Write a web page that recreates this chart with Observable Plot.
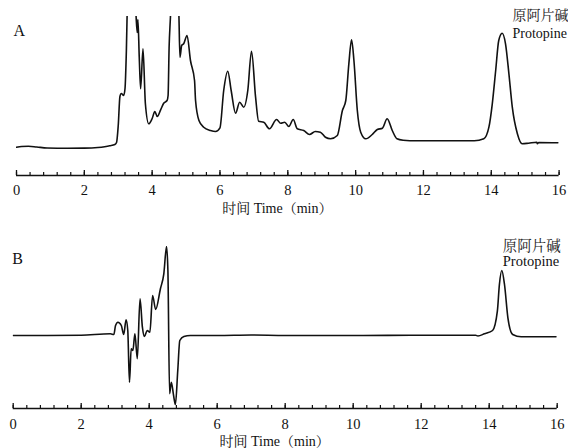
<!DOCTYPE html>
<html><head><meta charset="utf-8">
<script src="https://cdn.jsdelivr.net/npm/d3@7"></script>
<script src="https://cdn.jsdelivr.net/npm/@observablehq/plot@0.6"></script>
<style>
body{margin:0;background:#fff;width:568px;height:448px;overflow:hidden}
#chart svg{display:block}
#chart svg text{font-family:'Liberation Serif','Noto Serif CJK SC',serif !important}
</style>
</head><body><div id="chart"></div>
<script>
// Panel A: sample chromatogram (time in min, relative signal)
const timeA = [0,0.15,0.35,0.6,0.9,1.5,2.0,2.4,2.6,2.75,2.9,2.95,3.0,3.05,3.09,3.16,3.2,3.24,3.28,3.4,3.52,3.56,3.58,3.62,3.66,3.73,3.8,3.9,4.0,4.08,4.15,4.25,4.34,4.44,4.47,4.5,4.54,4.65,4.79,4.82,4.87,4.93,5.03,5.13,5.25,5.28,5.38,5.52,5.72,5.87,6.0,6.11,6.23,6.33,6.46,6.58,6.7,6.82,6.93,7.05,7.14,7.29,7.46,7.67,7.79,7.91,8.03,8.16,8.28,8.47,8.64,8.81,8.96,9.11,9.26,9.46,9.61,9.71,9.8,9.88,9.95,10.05,10.15,10.3,10.49,10.64,10.79,10.93,11.08,11.22,11.4,11.6,12.5,13.5,13.78,13.93,14.03,14.13,14.22,14.32,14.42,14.52,14.62,14.77,14.91,15.1,15.34,15.36,15.4,15.97];
const signalA = [0.3,1.0,1.3,0.5,-0.5,-0.7,-0.6,0,0.8,1.7,3,5,22,51,54,52,59,97,160,220,135,115,128,90,58.7,98.7,44,23.7,29,36,31,37.7,44.3,47,52,100,131,240,131,90.3,102,103.7,112,87,67,47,27,20.3,17,16,19.7,57,76.3,57,34.3,45.3,40.3,57,96.3,50.3,26.3,25.3,18.7,28,24.3,25.3,21,28,18.7,17,13,16,15.3,10.3,8.7,12,37,47,83.7,107.7,87,37,15.3,8.7,13,18,19.3,28.7,17,8.7,7.2,6.8,6.8,6.8,8.7,20.3,43.7,77,107,114.3,103.7,73.7,40.3,13.7,3.7,4.3,5.3,3.8,5,4.7];

// Panel B: second chromatogram
const timeB = [0,1,2,2.86,2.96,3.01,3.08,3.18,3.25,3.32,3.37,3.42,3.47,3.52,3.58,3.65,3.73,3.8,3.86,3.94,4.02,4.1,4.19,4.33,4.43,4.51,4.55,4.6,4.65,4.71,4.77,4.84,4.9,5.02,5.21,6,7,8,10,12,13.6,13.67,13.86,14.1,14.24,14.3,14.37,14.45,14.55,14.69,14.94,15.97];
const signalB = [0,0,0.3,1.7,1,10,13.3,10,1,15.7,5,-46.7,-13.3,-15,1.7,-23.3,36.7,8.3,-1,5,3.3,40,26,46.7,61.7,89,65,-58.3,-46.7,-58.3,-69,-35,-5,-1,0,0,0.5,0,0,0.3,0.3,-0.5,1.7,5,24.3,51,65,51,17.7,1,-1.3,-1.3];

const majorTicks = [0,2,4,6,8,10,12,14,16];
const minorStep = 0.4;
const xLabel = "时间 Time（min）";
const peakNameCN = "原阿片碱";
const peakNameEN = "Protopine";
const panelNames = ["A","B"];

const serif = "'Liberation Serif', 'Noto Serif CJK SC', serif";
const minorTicks = d3.range(0, 16 + 1e-9, minorStep);

function panel({time, signal, name, yDomain, mL, mR, mT, mB, tickPad, nameDx, nameDy, annDx, annDy1, annDy2, annSize, labelDy}) {
  const rows = time.map((t, i) => ({t, v: signal[i]}));
  const txt = {text: d => d, lineAnchor: "middle", fontFamily: serif, fill: "#111"};
  return Plot.plot({
    width: 568, height: 224,
    marginLeft: mL, marginRight: mR, marginTop: mT, marginBottom: mB,
    x: {domain: [0, 16], axis: null},
    y: {domain: yDomain, axis: null},
    style: {background: "#fff", color: "#111"},
    marks: [
      Plot.line(rows, {x: "t", y: "v", stroke: "#111", strokeWidth: 1.6, curve: "monotone-x", clip: true}),
      Plot.ruleY([yDomain[0]], {stroke: "#111", strokeWidth: 1.3}),
      Plot.axisX({ticks: minorTicks, tickSize: -3, tickFormat: () => "", label: null, strokeWidth: 1.2}),
      Plot.axisX({ticks: majorTicks, tickSize: -5, tickFormat: () => "", label: null, strokeWidth: 1.3}),
      Plot.axisX({ticks: majorTicks, tickSize: 0, tickPadding: tickPad, tickFormat: d3.format("d"), label: null, fontSize: 14.5, fontFamily: serif}),
      Plot.text([xLabel], {...txt, frameAnchor: "bottom", dx: -10.5, dy: labelDy, fontSize: 14}),
      Plot.text([name], {...txt, frameAnchor: "top-left", textAnchor: "start", dx: nameDx, dy: nameDy, fontSize: 16}),
      Plot.text([peakNameCN], {...txt, frameAnchor: "top-right", textAnchor: "start", dx: annDx, dy: annDy1, fontSize: annSize, fill: "#222"}),
      Plot.text([peakNameEN], {...txt, frameAnchor: "top-right", textAnchor: "start", dx: annDx, dy: annDy2, fontSize: annSize})
    ]
  });
}

const root = document.getElementById("chart");
root.append(panel({time: timeA, signal: signalA, name: panelNames[0], yDomain: [-28, 131],
  mL: 16, mR: 9.4, mT: 16, mB: 49, tickPad: 9.5, nameDx: -3, nameDy: 14,
  annDx: -46.6, annDy1: -1, annDy2: 17, annSize: 14, labelDy: 33}));
root.append(panel({time: timeB, signal: signalB, name: panelNames[1], yDomain: [-73, 89],
  mL: 12.7, mR: 11.3, mT: 22, mB: 40, tickPad: 10.5, nameDx: -1, nameDy: 12,
  annDx: -54.4, annDy1: -0.3, annDy2: 14.5, annSize: 14.5, labelDy: 33.3}));
</script>
</body></html>
